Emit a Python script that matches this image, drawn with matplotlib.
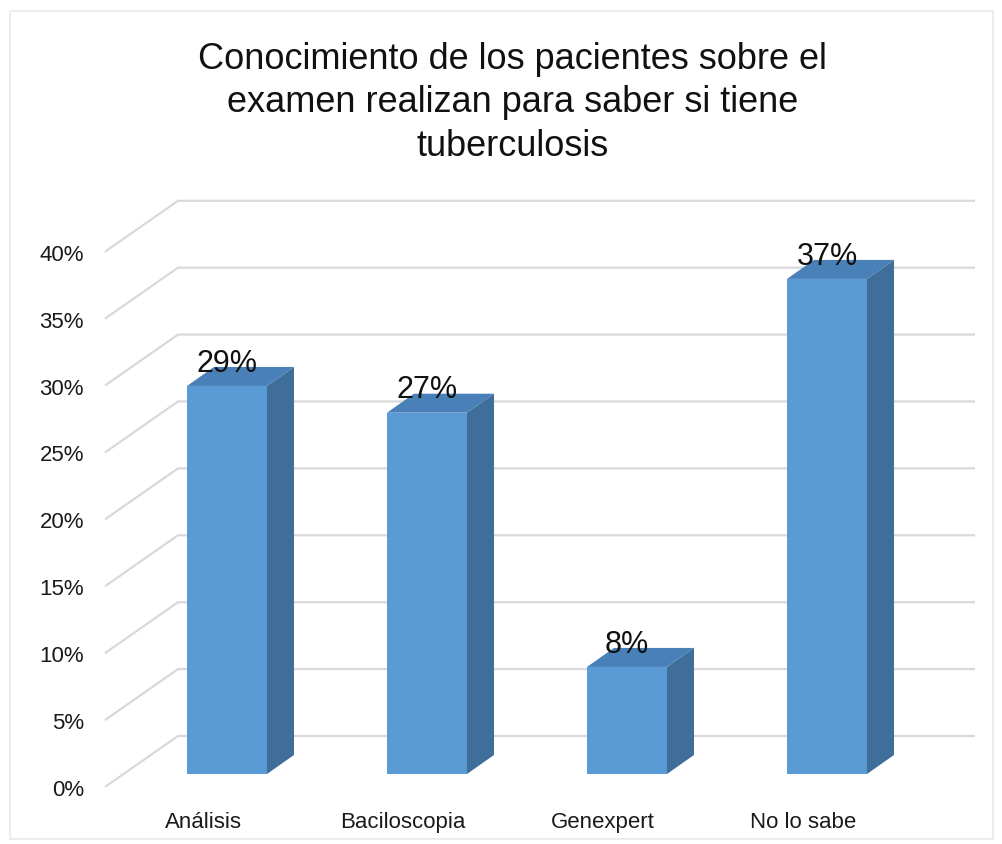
import numpy as np
import matplotlib
matplotlib.use("Agg")
import matplotlib.pyplot as plt
from matplotlib.patches import Polygon, Rectangle

plt.rcParams['font.family'] = ['Liberation Sans', 'DejaVu Sans']

# data
categories = ['Análisis', 'Baciloscopia', 'Genexpert', 'No lo sabe']
values = [29, 27, 8, 37]
yticks = [0, 5, 10, 15, 20, 25, 30, 35, 40]
title = 'Conocimiento de los pacientes sobre el\nexamen realizan para saber si tiene\ntuberculosis'

# colours
c_front = '#5B9BD5'
c_side = '#3E6E99'
c_top = '#4A80B8'
c_grid = '#D9D9D9'

# fake 3D depth offsets (x in category units, y in %)
bar_w = 0.4
dx, dy = 0.135, 1.42
wall_dx, wall_dy = 0.245, 2.84      # back wall relative to bar front
front_dx, front_dy = -0.365, -0.97  # front wall left edge relative to back wall
x_left_back = -0.245
x_right_back = 3.74

fig = plt.figure(figsize=(10.03, 8.45), dpi=100)
ax = fig.add_axes([95 / 1003, 45 / 845, 890 / 1003, 610 / 845])
ax.set_xlim(-0.66, 3.79)
ax.set_ylim(-1.87, 43.72)

x = np.arange(len(categories))

# gridlines: diagonal on the side wall, then horizontal on the back wall
for v in yticks:
    ax.plot([x_left_back + front_dx, x_left_back, x_right_back],
            [v + front_dy, v + wall_dy, v + wall_dy],
            color=c_grid, lw=1.6, zorder=1, solid_capstyle='butt')

# bars: front face + side + top
ax.bar(x, values, width=bar_w, color=c_front, zorder=3)
for xi, v in zip(x, values):
    r = xi + bar_w / 2
    l = xi - bar_w / 2
    side = Polygon([(r, 0), (r + dx, dy), (r + dx, v + dy), (r, v)],
                   closed=True, facecolor=c_side, edgecolor='none', zorder=3)
    top = Polygon([(l, v), (l + dx, v + dy), (r + dx, v + dy), (r, v)],
                  closed=True, facecolor=c_top, edgecolor='none', zorder=3)
    ax.add_patch(side)
    ax.add_patch(top)
    ax.text(xi, v + 1.15, f'{v}%', ha='center', va='baseline',
            fontsize=22, color='#111111', zorder=4)

ax.set_yticks([v + front_dy for v in yticks])
ax.set_yticklabels([f'{v}%' for v in yticks])
ax.set_xticks(x - 0.12)
ax.set_xticklabels(categories)
ax.tick_params(axis='both', length=0, labelsize=16, labelcolor='#1a1a1a')
ax.tick_params(axis='y', pad=8)
ax.tick_params(axis='x', pad=9)
for s in ax.spines.values():
    s.set_visible(False)

fig.text(0.511, 1 - 103 / 845, title, ha='center', va='center',
         fontsize=26, linespacing=1.3, color='#111111')

# faint chart border
fig.patches.append(Rectangle((10 / 1003, 5 / 845), 983 / 1003, 828 / 845,
                             transform=fig.transFigure, fill=False,
                             edgecolor='#EDEDED', lw=1.5))

fig.savefig('out.png', dpi=100)
